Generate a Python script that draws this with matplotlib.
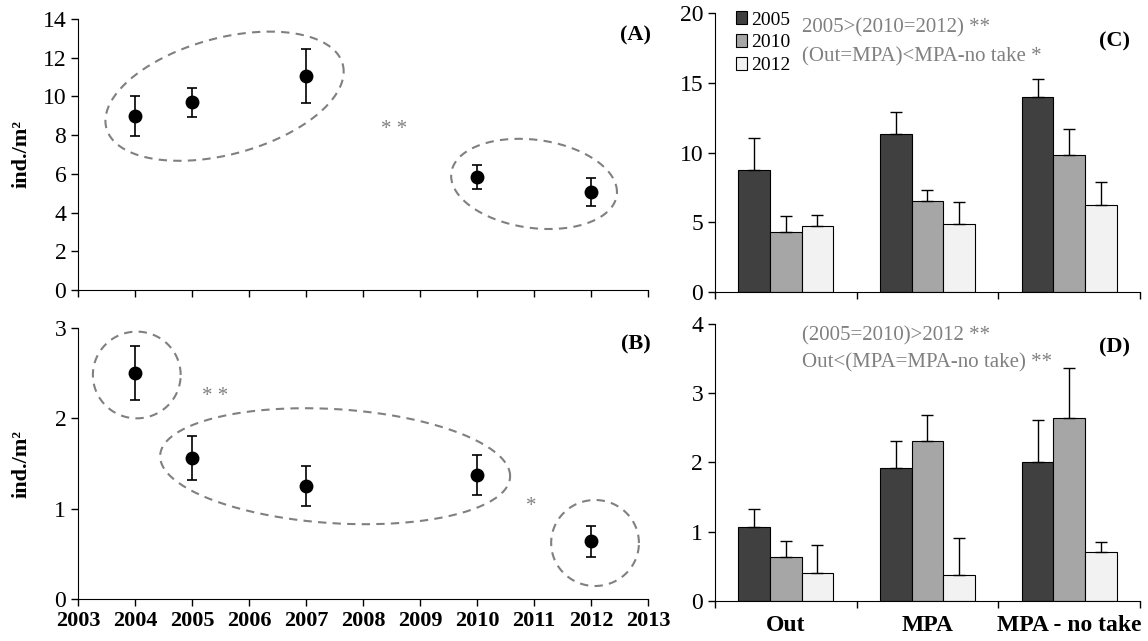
import numpy as np
import matplotlib
matplotlib.use('Agg')
import matplotlib.pyplot as plt

plt.rcParams['font.family'] = ['Liberation Serif', 'DejaVu Serif']

# panels A and B: yearly densities (mean, se)
years = [2004, 2005, 2007, 2010, 2012]
dens_a = [9.0, 9.7, 11.05, 5.85, 5.05]
err_a = [1.02, 0.75, 1.38, 0.63, 0.72]
dens_b = [2.5, 1.56, 1.25, 1.37, 0.64]
err_b = [0.3, 0.24, 0.22, 0.22, 0.17]

# panels C and D: by protection level
zones = ['Out', 'MPA', 'MPA - no take']
survey_years = ['2005', '2010', '2012']
bar_colors = ['#404040', '#a6a6a6', '#f2f2f2']
dens_c = [[8.78, 11.34, 13.98],
          [4.33, 6.53, 9.84],
          [4.74, 4.86, 6.26]]
err_c = [[2.25, 1.60, 1.30],
         [1.14, 0.77, 1.86],
         [0.82, 1.57, 1.67]]
dens_d = [[1.06, 1.92, 2.00],
          [0.63, 2.30, 2.64],
          [0.40, 0.37, 0.71]]
err_d = [[0.26, 0.38, 0.61],
         [0.23, 0.38, 0.72],
         [0.41, 0.54, 0.14]]

GREY = '#808080'


def oval(ax, cx, cy, w, h, k):
    # dashed group ellipse, k = height offset at the rightmost point
    t = np.linspace(0, 2 * np.pi, 200)
    v = np.sqrt(h ** 2 - k ** 2)
    ax.plot(cx + w * np.cos(t), cy + k * np.cos(t) + v * np.sin(t),
            ls=(0, (4, 3)), color=GREY, lw=1.5, clip_on=False)


def style(ax):
    for s in ['top', 'right']:
        ax.spines[s].set_visible(False)
    ax.tick_params(direction='out', length=5, width=1, labelsize=17)


def year_panel(ax, dens, err, ymax, ystep, label, show_x):
    ax.errorbar(years, dens, yerr=err, fmt='o', color='black', ms=9,
                ecolor='black', elinewidth=1.2, capsize=3.5, capthick=1.2)
    ax.set_xlim(2003, 2013)
    ax.set_ylim(0, ymax)
    ax.set_xticks(range(2003, 2014))
    ax.set_yticks(np.arange(0, ymax + 0.01, ystep))
    style(ax)
    if show_x:
        ax.set_xticklabels([str(y) for y in range(2003, 2014)],
                           fontweight='bold', fontsize=16)
    else:
        ax.set_xticklabels([])
    ax.set_ylabel('ind./m²', fontweight='bold', fontsize=16)
    ax.yaxis.set_label_coords(-0.082, 0.5)
    ax.text(1.005, 0.94, label, transform=ax.transAxes, ha='right',
            va='center', fontweight='bold', fontsize=16)


def zone_panel(ax, dens, err, ymax, ystep, label, notes, show_x):
    x = np.arange(len(zones))
    w = 0.223
    bars = []
    for i in range(len(survey_years)):
        b = ax.bar(x + (i - 1) * w, dens[i], w, color=bar_colors[i],
                   edgecolor='black', linewidth=0.8, label=survey_years[i])
        ax.errorbar(x + (i - 1) * w, dens[i],
                    yerr=[np.zeros(len(zones)), err[i]], fmt='none',
                    ecolor='black', elinewidth=1, capsize=4, capthick=1)
        bars.append(b)
    ax.set_xlim(-0.5, 2.5)
    ax.set_ylim(0, ymax)
    ax.set_yticks(np.arange(0, ymax + 0.01, ystep))
    ax.set_xticks([-0.5, 0.5, 1.5, 2.5])
    ax.set_xticklabels([])
    style(ax)
    if show_x:
        ax.set_xticks(x, minor=True)
        ax.set_xticklabels(zones, minor=True, fontweight='bold', fontsize=17)
        ax.tick_params(axis='x', which='minor', length=0, pad=10)
    ax.text(0.976, label[1], label[0], transform=ax.transAxes, ha='right',
            va='center', fontweight='bold', fontsize=16)
    for txt, yy in notes:
        ax.text(0.205, yy, txt, transform=ax.transAxes, ha='left',
                va='center', color=GREY, fontsize=15)
    return bars


fig = plt.figure(figsize=(11.48, 6.41), dpi=100)
ax_a = fig.add_axes([0.068, 0.5476, 0.4965, 0.4228])
ax_b = fig.add_axes([0.068, 0.0655, 0.4965, 0.4228])
ax_c = fig.add_axes([0.6228, 0.5445, 0.3702, 0.4345])
ax_d = fig.add_axes([0.6228, 0.0624, 0.3702, 0.4328])

year_panel(ax_a, dens_a, err_a, 14, 2, '(A)', False)
oval(ax_a, 2005.57, 10.01, 2.09, 3.337, 1.27)
oval(ax_a, 2011.0, 5.48, 1.455, 2.33, -0.42)
ax_a.text(2008.55, 8.3, '* *', ha='center', va='center', color=GREY,
          fontsize=15)

year_panel(ax_b, dens_b, err_b, 3, 1, '(B)', True)
oval(ax_b, 2004.03, 2.48, 0.77, 0.48, 0.0)
oval(ax_b, 2007.51, 1.47, 3.07, 0.642, -0.11)
oval(ax_b, 2012.07, 0.62, 0.77, 0.476, 0.0)
ax_b.text(2005.4, 2.24, '* *', ha='center', va='center', color=GREY,
          fontsize=15)
ax_b.text(2010.95, 1.02, '*', ha='center', va='center', color=GREY,
          fontsize=15)

bars = zone_panel(ax_c, dens_c, err_c, 20, 5, ('(C)', 0.90),
                  [('2005>(2010=2012) **', 0.95),
                   ('(Out=MPA)<MPA-no take *', 0.845)], False)
ax_c.legend(handles=bars, loc='upper left', bbox_to_anchor=(0.03, 1.035),
            frameon=False, fontsize=14, handlelength=0.6, handleheight=0.6,
            handletextpad=0.2, labelspacing=0.3, borderaxespad=0)

zone_panel(ax_d, dens_d, err_d, 4, 1, ('(D)', 0.915),
           [('(2005=2010)>2012 **', 0.955),
            ('Out<(MPA=MPA-no take) **', 0.86)], True)

fig.savefig('out.png', dpi=100)
